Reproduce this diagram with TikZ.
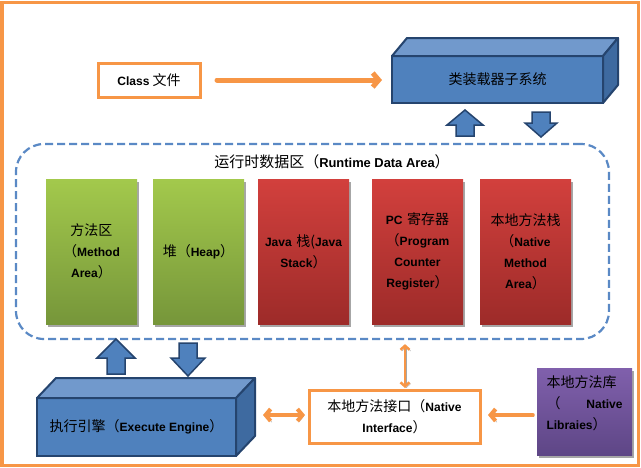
\documentclass[tikz,border=0pt]{standalone}
\usepackage{fontspec}
\setmainfont{Noto Sans CJK SC}
\newfontfamily\latfont{Liberation Sans}[Scale=0.86]
\newcommand\latb[1]{{\latfont\bfseries #1}}
\usetikzlibrary{arrows.meta,shadows}
\definecolor{ora}{HTML}{F79646}
\definecolor{bfront}{HTML}{4F81BD}
\definecolor{btop}{HTML}{7199CC}
\definecolor{bside}{HTML}{3E6AA0}
\definecolor{bedge}{HTML}{25446E}
\definecolor{gtop}{HTML}{A3C94C}
\definecolor{gbot}{HTML}{76963A}
\definecolor{rtop}{HTML}{D2403D}
\definecolor{rbot}{HTML}{9D2B29}
\definecolor{ptop}{HTML}{8060AC}
\definecolor{pbot}{HTML}{5E4686}
\definecolor{dashc}{HTML}{5A89C5}
\tikzset{
  col/.style={rectangle, minimum width=91pt, minimum height=145pt, text width=87pt,
    align=center, inner sep=0pt, outer sep=0pt,
    drop shadow={shadow xshift=2pt, shadow yshift=-3pt, opacity=0.35, fill=black}},
  gcol/.style={col, top color=gtop, bottom color=gbot},
  rcol/.style={col, top color=rtop, bottom color=rbot},
  obox/.style={rectangle, draw=ora, line width=3pt, fill=white, inner sep=0pt, outer sep=0pt, align=center},
  bfrontbox/.style={rectangle, draw=bedge, line width=2pt, fill=bfront, inner sep=0pt, outer sep=0pt, align=center},
  bface/.style={draw=bedge, line width=2pt, line join=round},
  blk/.style={fill=bfront, draw=bedge, line width=1.5pt, line join=miter},
  oarr/.style={draw=ora, line cap=round, line join=round,
    preaction={draw=black!35, transform canvas={xshift=1.3pt, yshift=-1.3pt}}},
}
\newcommand\blkarrow[5]{%
  \filldraw[blk] ({#1-9},#2) -- ({#1-9},#4) -- ({#1-#5},#4) -- (#1,#3) -- ({#1+#5},#4) -- ({#1+9},#4) -- ({#1+9},#2) -- cycle;}
\begin{document}
\begin{tikzpicture}[x=1pt, y=-1pt, font=\fontsize{14}{21}\selectfont]
\useasboundingbox (0,0) rectangle (641,467);
\fill[white] (0,0) rectangle (641,467);
% outer frame
\draw[ora, line width=3pt] (2,2) rectangle (638,465);

% class file
\node[obox, minimum width=102pt, minimum height=34pt] (class) at (149,80) {\latb{Class} 文件};

% class loader 3D box
\node[bfrontbox, minimum width=211pt, minimum height=47pt] (loader) at (497.5,79.5) {类装载器子系统};
\filldraw[bface, fill=btop] (loader.north west) -- ++(15,-18) -- ([shift={(15,-18)}]loader.north east) -- (loader.north east) -- cycle;
\filldraw[bface, fill=bside] (loader.north east) -- ++(15,-18) -- ([shift={(15,-18)}]loader.south east) -- (loader.south east) -- cycle;

% arrows loader <-> region
\blkarrow{465}{136}{110}{125}{18}
\blkarrow{541}{112}{137}{123}{16}

% runtime data area
\node[draw=dashc, line width=2.2pt, dash pattern=on 8pt off 4pt, rounded corners=28pt,
      minimum width=593pt, minimum height=195pt, inner sep=0pt] (region) at (312.5,241.5) {};
\node[font=\fontsize{15}{18}\selectfont] (title) at (332,162) {运行时数据区（\latb{Runtime Data Area}）};

\node[gcol] (method) at (91.5,251.5) {方法区\\（\latb{Method}\\\latb{Area}）};
\node[gcol] (heap) at (198.5,251.5) {堆（\latb{Heap}）};
\node[rcol] (stack) at (303.5,251.5) {\latb{Java} 栈(\latb{Java}\\\latb{Stack}）};
\node[rcol] (pc) at (417.5,251.5) {\latb{PC} 寄存器\\（\latb{Program}\\\latb{Counter}\\\latb{Register}）};
\node[rcol] (nstack) at (525.5,251.5) {本地方法栈\\（\latb{Native}\\\latb{Method}\\\latb{Area}）};

% execute engine 3D box
\node[bfrontbox, minimum width=199pt, minimum height=58pt] (engine) at (136.5,427) {执行引擎（\latb{Execute Engine}）};
\filldraw[bface, fill=btop] (engine.north west) -- ++(19,-20) -- ([shift={(19,-20)}]engine.north east) -- (engine.north east) -- cycle;
\filldraw[bface, fill=bside] (engine.north east) -- ++(19,-20) -- ([shift={(19,-20)}]engine.south east) -- (engine.south east) -- cycle;

% arrows region <-> engine
\blkarrow{116}{374}{339}{358}{19}
\blkarrow{188}{343}{376}{358}{17}

% native interface
\node[obox, minimum width=171pt, minimum height=53pt] (ni) at (394.5,416.5) {本地方法接口（\latb{Native}\\\latb{Interface}）};

% native libraries
\node[rectangle, minimum width=95pt, minimum height=87pt, inner sep=0pt, top color=ptop, bottom color=pbot,
      drop shadow={shadow xshift=2pt, shadow yshift=-3pt, opacity=0.35, fill=black}] (libs) at (584.5,411.5) {};
\node[text width=76pt, align=left, inner sep=0pt, anchor=center] (libstext) at ([yshift=8pt]libs.center)
  {本地方法库\\（\hfill\latb{Native}\\\latb{Libraies}）};

% orange connectors
\draw[oarr, line width=5pt, -{Straight Barb[length=6pt,width=14pt]}]
  ([xshift=17pt]class.east) -- ([xshift=-10pt]loader.west |- class.east);
\coordinate (nitop) at ([xshift=10.5pt]ni.north);
\draw[oarr, line width=2.5pt, {Straight Barb[length=4pt,width=9pt]}-{Straight Barb[length=4pt,width=9pt]}]
  ([yshift=2pt]nitop) -- ([yshift=-4pt]nitop |- region.south);
\coordinate (niw) at ([xshift=-4pt, yshift=1.5pt]ni.west);
\coordinate (engr) at ([xshift=-46pt, yshift=1.5pt]ni.west);
\draw[oarr, line width=4pt, {Straight Barb[length=5pt,width=12pt]}-{Straight Barb[length=5pt,width=12pt]}]
  (engr) -- (niw);
\coordinate (nie) at ([xshift=8pt, yshift=1.5pt]ni.east);
\coordinate (libw) at ([xshift=-4pt]libs.west);
\draw[oarr, line width=4pt, -{Straight Barb[length=5pt,width=12pt]}] (libw |- nie) -- (nie);
\end{tikzpicture}
\end{document}
